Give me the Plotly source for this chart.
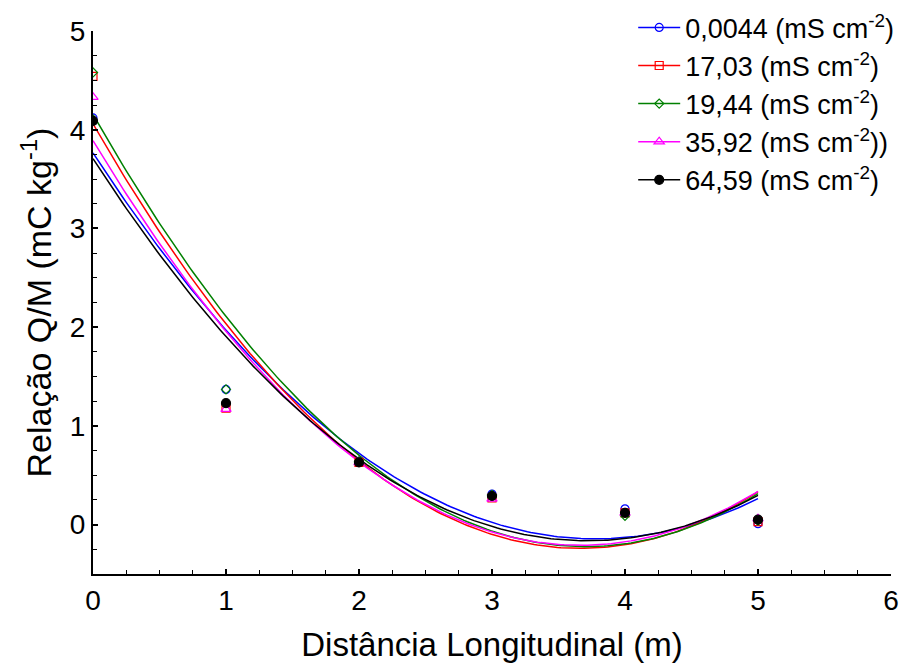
import numpy as np
import plotly.graph_objects as go

x_pts = [0, 1, 2, 3, 4, 5]
labels = ["0,0044 (mS cm<sup>-2</sup>)", "17,03 (mS cm<sup>-2</sup>)", "19,44 (mS cm<sup>-2</sup>)",
          "35,92 (mS cm<sup>-2</sup>))", "64,59 (mS cm<sup>-2</sup>)"]
y_blue = [4.12, 1.37, 0.64, 0.31, 0.16, 0.01]
y_red = [4.54, 1.18, 0.63, 0.27, 0.12, 0.03]
y_green = [4.58, 1.37, 0.64, 0.30, 0.09, 0.04]
y_magenta = [4.33, 1.17, 0.63, 0.26, 0.12, 0.06]
y_black = [4.09, 1.23, 0.63, 0.29, 0.12, 0.05]

series = [y_blue, y_red, y_green, y_magenta, y_black]
colors = ["#0000ff", "#ff0000", "#008000", "#ff00ff", "#000000"]
symbols = ["circle-open", "square-open", "diamond-open", "triangle-up-open", "circle"]
sizes = [8, 8, 7, 9, 9]

fig = go.Figure()
xf = np.linspace(0, 5, 200)
# fitted quadratic curves
for ys, c in zip(series, colors):
    coef = np.polyfit(x_pts, ys, 2)
    fig.add_trace(go.Scatter(x=xf, y=np.polyval(coef, xf), mode="lines",
                             line=dict(color=c, width=1.5), showlegend=False, hoverinfo="skip"))
# data markers
for ys, c, s, sz in zip(series, colors, symbols, sizes):
    fig.add_trace(go.Scatter(x=x_pts, y=ys, mode="markers", showlegend=False,
                             marker=dict(symbol=s, color=c, size=sz, line=dict(color=c, width=1.2))))
# legend entries
for lab, c, s, sz in zip(labels, colors, symbols, sizes):
    fig.add_trace(go.Scatter(x=[None], y=[None], mode="lines+markers", name=lab,
                             line=dict(color=c, width=1.5),
                             marker=dict(symbol=s, color=c, size=sz, line=dict(color=c, width=1.2))))

font = "Liberation Sans, Arial, sans-serif"
fig.update_layout(
    width=901, height=671,
    margin=dict(l=93, r=10, t=31, b=97, autoexpand=False),
    plot_bgcolor="white", paper_bgcolor="white",
    font=dict(family=font, color="black"),
    legend=dict(xref="container", yref="container", x=0.998, y=0.995,
                xanchor="right", yanchor="top", font=dict(size=27),
                bgcolor="rgba(0,0,0,0)", itemwidth=42, tracegroupgap=0),
    xaxis=dict(range=[0, 6], tickmode="linear", tick0=0, dtick=1, automargin=False,
               showline=True, linecolor="black", linewidth=2, mirror=False,
               ticks="inside", ticklen=5, tickwidth=1.5, tickcolor="black",
               minor=dict(ticks="inside", ticklen=4, dtick=0.25, tickcolor="black", tickwidth=1.2),
               showgrid=False, zeroline=False, tickfont=dict(size=28),
               title=dict(text="Distância Longitudinal (m)", font=dict(size=33), standoff=18)),
    yaxis=dict(range=[-0.5, 5], tickmode="linear", tick0=0, dtick=1, automargin=False,
               showline=True, linecolor="black", linewidth=2, mirror=False,
               ticks="inside", ticklen=5, tickwidth=1.5, tickcolor="black",
               minor=dict(ticks="inside", ticklen=4, dtick=0.25, tickcolor="black", tickwidth=1.2),
               showgrid=False, zeroline=False, tickfont=dict(size=28),
               title=dict(text="Relação Q/M (mC kg<sup>-1</sup>)", font=dict(size=34), standoff=8)),
)
fig.write_html("out.html")
